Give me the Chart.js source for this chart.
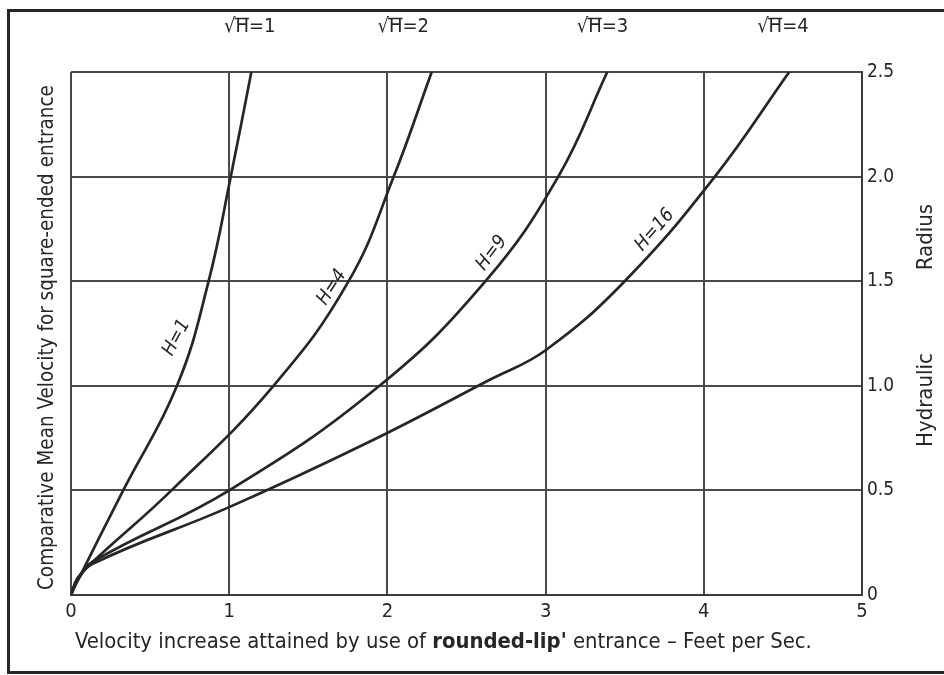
<!DOCTYPE html>
<html lang="en">
<head>
<meta charset="UTF-8">
<title>Velocity increase - rounded-lip entrance</title>
<script src="https://cdn.jsdelivr.net/npm/chart.js@4.4.0/dist/chart.umd.min.js"></script>
<style>
  body { margin: 0; background: #fff; }
  #wrap { width: 944px; height: 675px; position: relative; }
</style>
</head>
<body>
<div id="wrap"><canvas id="myCanvas"></canvas></div>
<script>
// values (x = velocity increase, y = hydraulic radius)
const h1X  = [0, 0.03, 0.33, 0.67, 0.87, 1.01, 1.14];
const h1Y  = [0, 0.05, 0.5, 1.0, 1.5, 2.0, 2.5];
const h4X  = [0, 0.04, 0.14, 0.635, 1.28, 1.755, 2.04, 2.28];
const h4Y  = [0, 0.08, 0.16, 0.5, 1.0, 1.5, 2.0, 2.5];
const h9X  = [0, 0.04, 0.14, 1.0, 1.95, 2.62, 3.08, 3.39];
const h9Y  = [0, 0.07, 0.16, 0.5, 1.0, 1.5, 2.0, 2.5];
const h16X = [0, 0.04, 0.14, 1.0, 1.88, 2.65, 3.0, 3.5, 4.07, 4.54];
const h16Y = [0, 0.07, 0.15, 0.42, 0.73, 1.03, 1.17, 1.5, 2.0, 2.5];

const xTickLabels = ['0', '1', '2', '3', '4', '5'];
const yTickLabels = ['0', '0.5', '1.0', '1.5', '2.0', '2.5'];

const curveNames = ['H=1', 'H=4', 'H=9', 'H=16'];
const rootNames  = ['\u221AH=1', '\u221AH=2', '\u221AH=3', '\u221AH=4'];

const ink = '#262626';
const face = '"DejaVu Sans Condensed", "DejaVu Sans", sans-serif';

function pts(xs, ys) {
    return xs.map((v, i) => ({ x: v, y: ys[i] }));
}

function curve(xs, ys) {
    return {
        data: pts(xs, ys),
        showLine: true,
        borderColor: ink,
        borderWidth: 2.7,
        pointRadius: 0,
        tension: 0.42,
        fill: false
    };
}

// label spots along curves (data coords) and rotation
const curveLabelPos = [
    { x: 0.667, y: 1.23, a: -62 },
    { x: 1.65, y: 1.47, a: -57 },
    { x: 2.66, y: 1.635, a: -53 },
    { x: 3.69, y: 1.745, a: -49 }
];
const rootLabelX = [1.13, 2.10, 3.36, 4.50];

function fitFont(ctx, parts, size, width) {
    let w = 0;
    parts.forEach(p => {
        ctx.font = (p[1] ? 'bold ' : '') + size + 'px ' + face;
        w += ctx.measureText(p[0]).width;
    });
    return size * width / w;
}

function drawParts(ctx, parts, x0, yMid, size) {
    let x = x0;
    parts.forEach(p => {
        ctx.font = (p[1] ? 'bold ' : '') + size.toFixed(2) + 'px ' + face;
        ctx.fillText(p[0], x, yMid);
        x += ctx.measureText(p[0]).width;
    });
}

const inkPlugin = {
    id: 'inkPlugin',
    afterDraw(chart) {
        const ctx = chart.ctx;
        const xs = chart.scales.x, ys = chart.scales.y;
        ctx.save();
        ctx.fillStyle = ink;
        ctx.strokeStyle = ink;

        // outer frame
        ctx.lineWidth = 3;
        ctx.strokeRect(8.5, 10.5, 1000, 662);

        // root H labels above the plot
        ctx.font = '20px ' + face;
        ctx.textBaseline = 'middle';
        ctx.textAlign = 'left';
        rootNames.forEach((t, i) => {
            const cx = xs.getPixelForValue(rootLabelX[i]);
            const w = ctx.measureText(t).width;
            const x0 = cx - w / 2;
            ctx.fillText(t, x0, 27);
            const wr = ctx.measureText('\u221A').width;
            const wh = ctx.measureText('\u221AH').width;
            ctx.lineWidth = 1.5;
            ctx.beginPath();
            ctx.moveTo(x0 + wr - 1, 18.5);
            ctx.lineTo(x0 + wh, 18.5);
            ctx.stroke();
        });

        // curve labels
        ctx.font = 'italic 19px ' + face;
        ctx.textAlign = 'center';
        curveNames.forEach((t, i) => {
            const p = curveLabelPos[i];
            ctx.save();
            ctx.translate(xs.getPixelForValue(p.x), ys.getPixelForValue(p.y));
            ctx.rotate(p.a * Math.PI / 180);
            ctx.fillText(t, 0, 0);
            ctx.restore();
        });

        // bottom title with bold part
        const bottomParts = [
            ['Velocity increase attained by use of ', false],
            ["rounded-lip'", true],
            [' entrance \u2013 Feet per Sec.', false]
        ];
        ctx.textAlign = 'left';
        const bs = fitFont(ctx, bottomParts, 20, 737);
        drawParts(ctx, bottomParts, 75, 642, bs);

        // left title
        const leftParts = [['Comparative Mean Velocity for square-ended entrance', false]];
        const ls = fitFont(ctx, leftParts, 20, 505);
        ctx.save();
        ctx.translate(48, 590);
        ctx.rotate(-Math.PI / 2);
        drawParts(ctx, leftParts, 0, 0, ls);
        ctx.restore();

        // right title
        ctx.font = '22px ' + face;
        ctx.textAlign = 'center';
        [['Hydraulic', 400], ['Radius', 237]].forEach(([t, yc]) => {
            ctx.save();
            ctx.translate(926, yc);
            ctx.rotate(-Math.PI / 2);
            ctx.fillText(t, 0, 0);
            ctx.restore();
        });
        ctx.restore();
    }
};

const gridStyle = { color: '#4a4a4a', lineWidth: 2, drawTicks: false };

new Chart(document.getElementById('myCanvas'), {
    type: 'scatter',
    data: {
        datasets: [curve(h1X, h1Y), curve(h4X, h4Y), curve(h9X, h9Y), curve(h16X, h16Y)]
    },
    options: {
        responsive: true,
        maintainAspectRatio: false,
        animation: false,
        layout: { padding: { left: 71, top: 72, right: 0, bottom: 0 } },
        plugins: { legend: { display: false }, tooltip: { enabled: false } },
        scales: {
            x: {
                type: 'linear', min: 0, max: 5,
                grid: gridStyle,
                border: { color: '#3a3a3a', width: 2 },
                ticks: {
                    stepSize: 1, color: ink, padding: 5,
                    font: { family: face, size: 20 },
                    callback: (v, i) => xTickLabels[i]
                },
                afterFit: s => { s.height = 80; }
            },
            y: {
                type: 'linear', position: 'right', min: 0, max: 2.5,
                grid: gridStyle,
                border: { color: '#3a3a3a', width: 2 },
                ticks: {
                    stepSize: 0.5, color: ink, padding: 5,
                    font: { family: face, size: 19 },
                    callback: (v, i) => yTickLabels[i]
                },
                afterFit: s => { s.width = 82; }
            }
        }
    },
    plugins: [inkPlugin]
});
</script>
</body>
</html>
